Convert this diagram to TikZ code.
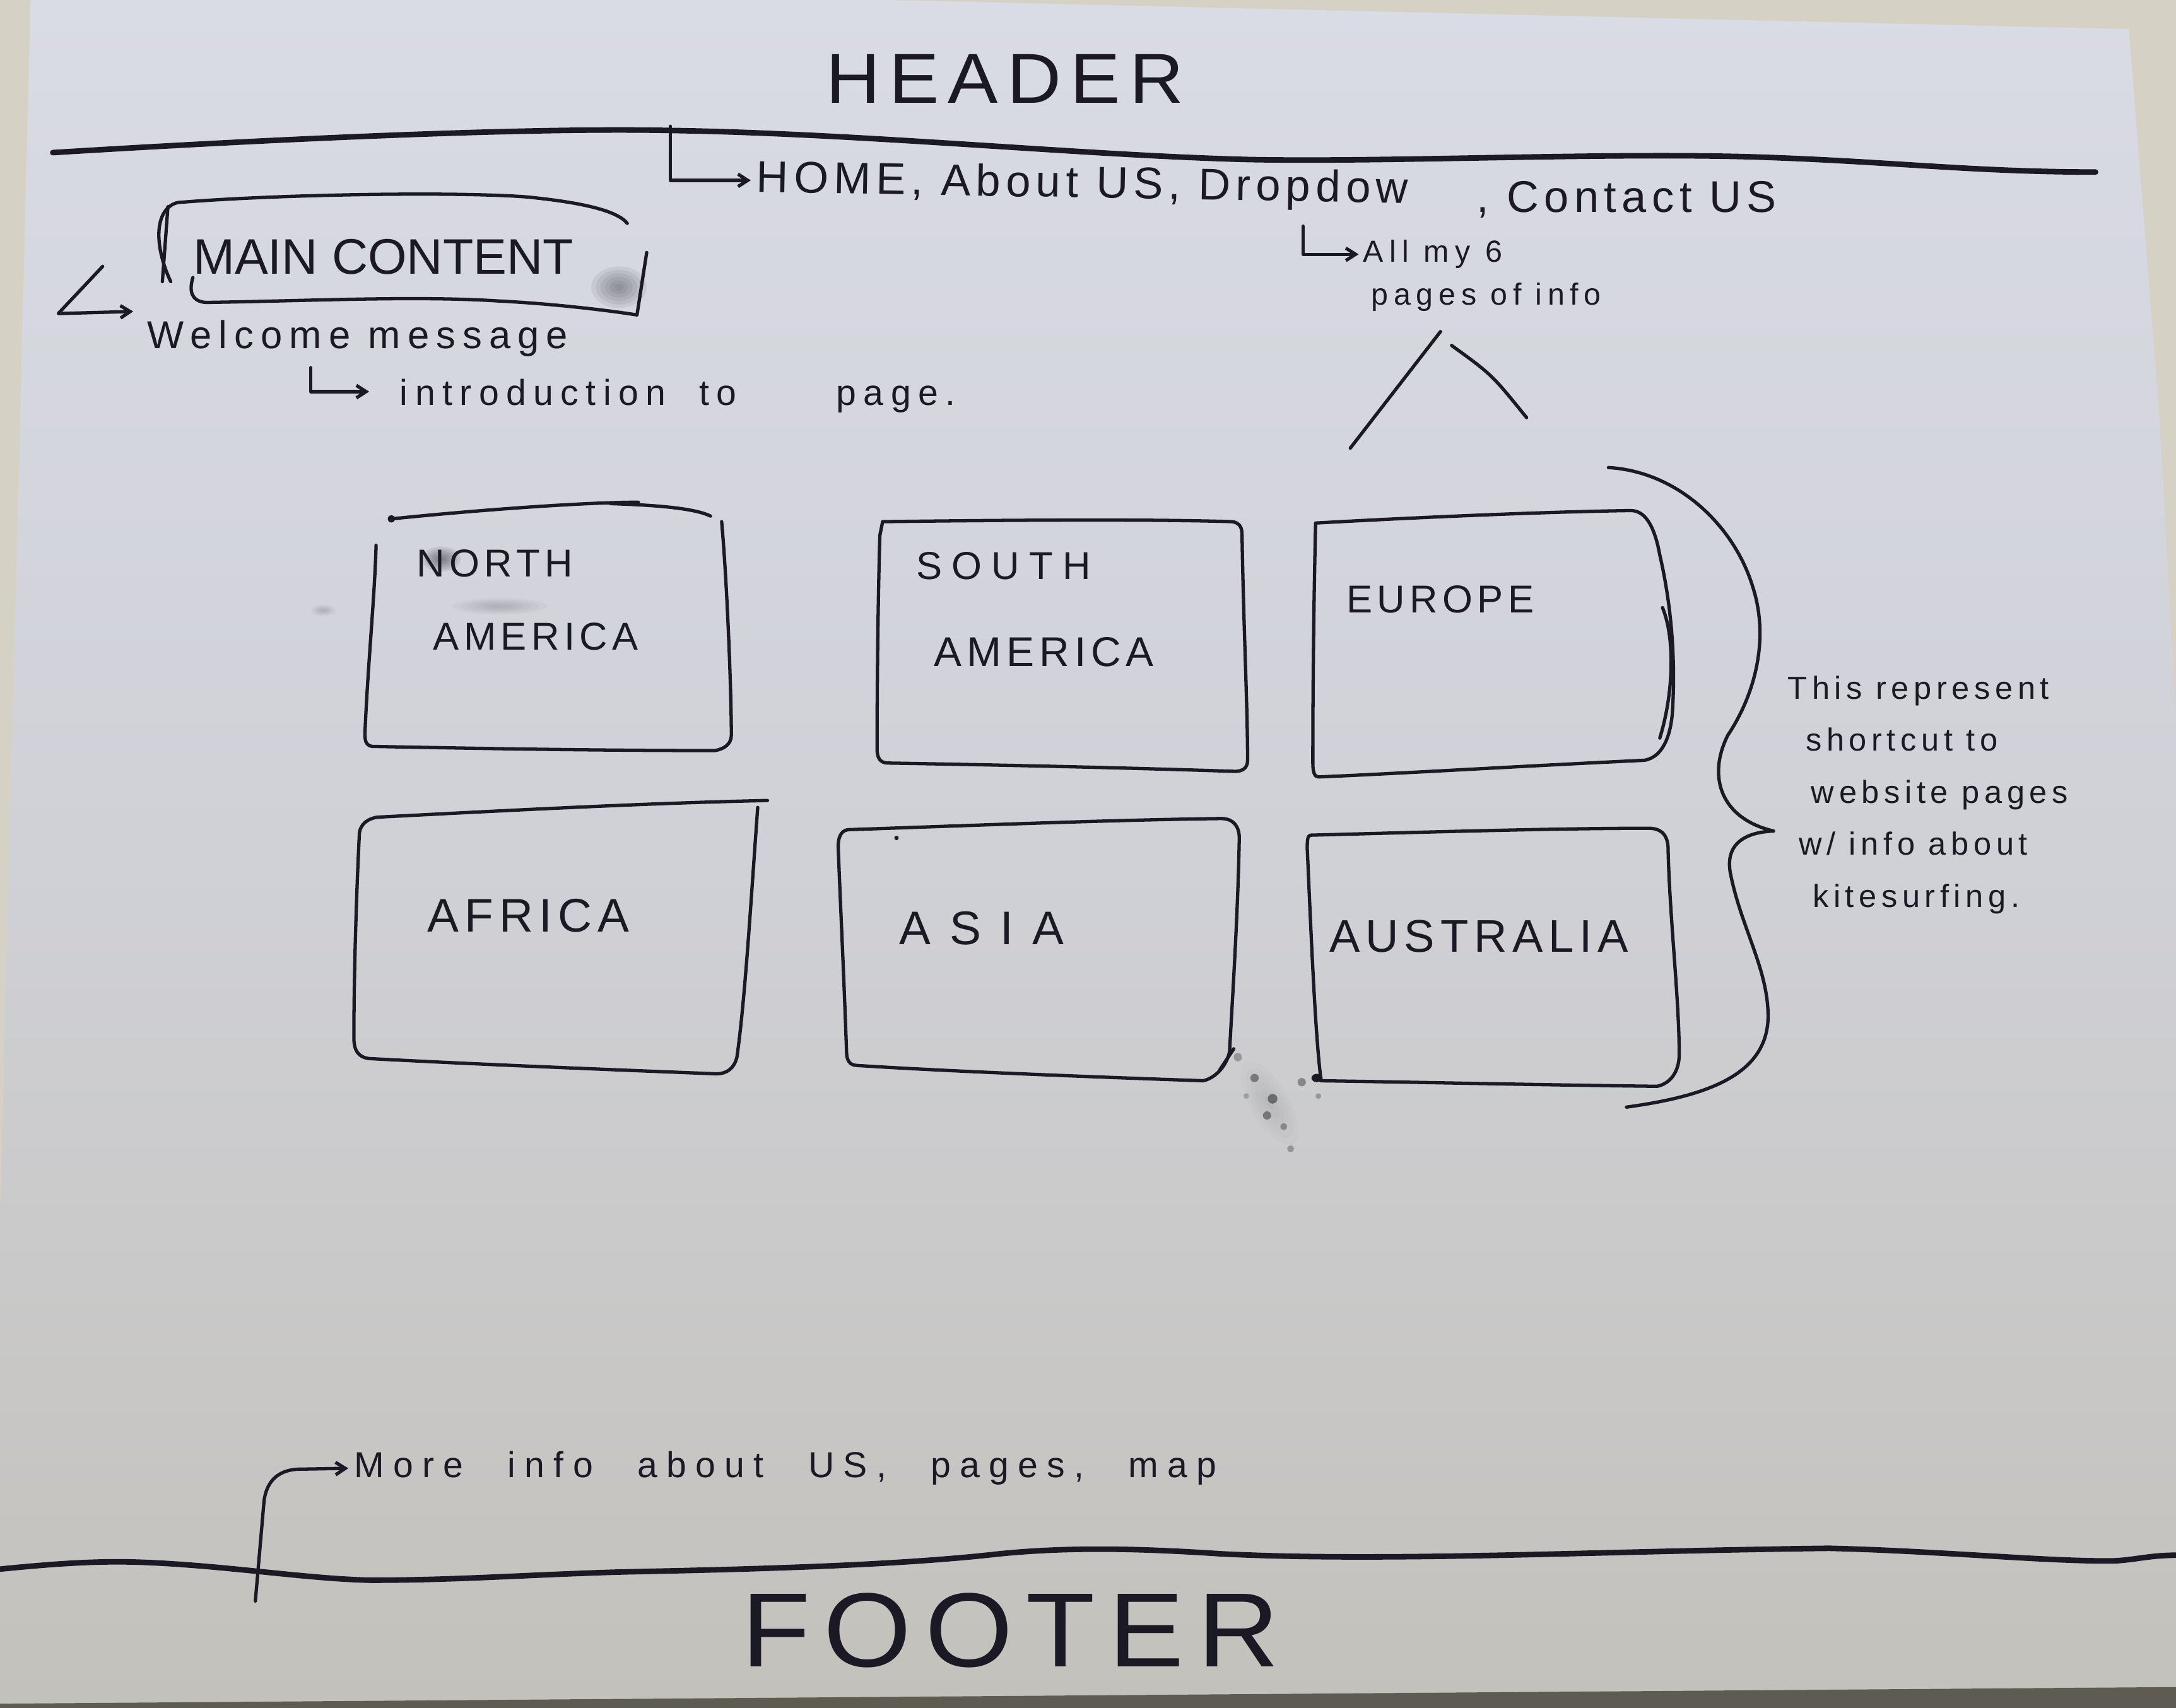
\documentclass[tikz,border=0pt]{standalone}
\usepackage{fontspec}
\setmainfont{Liberation Sans}
\newfontfamily\hand[LetterSpace=12]{Liberation Sans}
\usetikzlibrary{arrows.meta}
\definecolor{ink}{HTML}{1B1A24}
\definecolor{papertop}{HTML}{D9DBE5}
\definecolor{papermid}{HTML}{D0D1D7}
\definecolor{paperbot}{HTML}{C3C1BB}
\definecolor{wall}{HTML}{D5D2C5}
\definecolor{edge}{HTML}{5E5B52}
\tikzset{
  pen/.style={draw=ink, line width=2.4pt, line cap=round, line join=round},
  bigpen/.style={draw=ink, line width=4pt, line cap=round, line join=round},
  lbl/.style={inner sep=0pt, text=ink},
  hw/.style={font={\hand\fontsize{#1}{#1}\selectfont}},
  tip/.style={-{Straight Barb[length=7pt,width=9pt]}},
  smudge/.style={fill=ink, draw=none}
}
% soft graphite smear: stacked translucent ellipses
\newcommand\smear[5]{% x, y, rx, ry, strength
  \foreach \k in {1,...,6}
    \fill[smudge, opacity=#5] (#1,#2) ellipse ({#3*\k/6} and {#4*\k/6});}
\begin{document}
\begin{tikzpicture}[x=1pt,y=-1pt]
\useasboundingbox (0,0) rectangle (1568,1231);
% wall, paper sheet and the table edge below it
\fill[wall] (0,0) rectangle (1568,1231);
\shade[top color=papertop, bottom color=paperbot, middle color=papermid]
  (22,0) -- (640,0) -- (1534,21) -- (1556,300) -- (1568,520) -- (1568,1216)
  -- (0,1228) -- (0,880) -- cycle;
\fill[edge] (0,1228) -- (1568,1216) -- (1568,1231) -- (0,1231) -- cycle;

% ---------- header ----------
\node[lbl, hw=51] (header) at (724,57) {\scalebox{1.06}[1]{HEADER}};
\draw[bigpen] (38,110) .. controls (200,100) and (380,92) .. (480,94)
  .. controls (620,96) and (780,112) .. (900,115)
  .. controls (1000,117) and (1150,110) .. (1260,113)
  .. controls (1360,116) and (1420,124) .. (1510,124);
\coordinate (navtick) at (483,91);

\node[lbl, hw=32, anchor=west, rotate=-1] (nav) at (545,130) {HOME, About US, Dropdow};
\node[lbl, hw=32, anchor=west] (contact) at (1064,144) {, Contact US};
\draw[pen, tip, shorten >=4pt] (navtick) |- (nav.west);

\node[lbl, hw=22, anchor=base west] (allmy) at (982,189) {\addfontfeatures{LetterSpace=20}All my 6};
\node[lbl, hw=22, anchor=base west] (pagesinfo) at (988,220) {\addfontfeatures{LetterSpace=18}pages of info};
\coordinate (ddtick) at (939,163);
\draw[pen, tip, shorten >=3pt] (ddtick) |- (allmy.west);

% caret pointing up at the dropdown note
\coordinate (caretL) at (973,323);
\coordinate (caretT) at (1038,239);
\coordinate (caretS) at (1046,249);
\coordinate (caretR) at (1100,301);
\draw[pen] (caretL) -- (caretT);
\draw[pen] (caretS) .. controls (1075,270) .. (caretR);

% ---------- main content ----------
\smear{446}{207}{20}{15}{0.07}
\node[lbl, hw=36, anchor=west] (main) at (139,185) {\addfontfeatures{LetterSpace=0}MAIN CONTENT};
\draw[pen] (123,203) .. controls (110,175) and (112,150) .. (128,146)
  .. controls (200,140) and (330,138) .. (380,142)
  .. controls (420,146) and (445,152) .. (452,161);
\draw[pen] (121,149) -- (117,203);
\draw[pen] (139,200) .. controls (136,210) and (138,217) .. (148,218)
  .. controls (220,217) and (300,213) .. (360,217)
  .. controls (400,219) and (440,224) .. (459,227) -- (466,182);

\node[lbl, hw=28, anchor=base west] (welcome) at (106,251) {\addfontfeatures{LetterSpace=18}Welcome message};
\coordinate (mainarr) at (74,192);
\draw[pen, tip] (mainarr) -- (42,226) -- ([xshift=-10pt,yshift=6pt]welcome.north west);

\node[lbl, hw=26, anchor=base west] (intro) at (288,292)
  {\addfontfeatures{LetterSpace=20}introduction\hspace{24pt}to\hspace{72pt}page.};
\coordinate (introtick) at (224,265);
\draw[pen, tip, shorten >=22pt] (introtick) |- ([yshift=3pt]intro.west);

% ---------- region tiles ----------
% North America
\smear{318}{403}{14}{9}{0.09}
\smear{360}{437}{34}{6}{0.03}
\smear{233}{440}{9}{4}{0.03}
\draw[pen] (282,374) .. controls (340,368) and (420,362) .. (460,362);
\draw[pen] (440,363) .. controls (470,364) and (500,366) .. (512,372);
\draw[pen] (520,376) .. controls (524,420) and (527,500) .. (527,530)
  .. controls (527,536) and (522,540) .. (515,541)
  .. controls (420,541) and (320,539) .. (268,538)
  .. controls (263,537) and (263,533) .. (263,528)
  .. controls (265,480) and (270,430) .. (271,393);
\fill[ink] (282,374) circle (2.6pt);
\node[lbl, hw=28, anchor=west] (na1) at (300,406) {NORTH};
\node[lbl, hw=28, anchor=west] (na2) at (312,459) {AMERICA};

% South America
\draw[pen] (636,376) .. controls (720,375) and (820,374) .. (888,376)
  .. controls (894,377) and (895,381) .. (895,386)
  .. controls (896,450) and (899,510) .. (899,548)
  .. controls (899,553) and (896,556) .. (890,556)
  .. controls (800,553) and (700,551) .. (640,550)
  .. controls (634,550) and (632,546) .. (632,540)
  .. controls (632,480) and (633,420) .. (634,386) -- cycle;
\node[lbl, hw=28, anchor=west] (sa1) at (660,408) {\addfontfeatures{LetterSpace=25}SOUTH};
\node[lbl, hw=30, anchor=west] (sa2) at (673,470) {AMERICA};

% Europe
\draw[pen] (948,377) .. controls (1020,373) and (1110,369) .. (1175,368)
  .. controls (1185,368) and (1192,378) .. (1196,400)
  .. controls (1203,430) and (1208,470) .. (1205,515)
  .. controls (1203,535) and (1196,546) .. (1185,548)
  .. controls (1100,552) and (1000,558) .. (950,560)
  .. controls (947,560) and (946,556) .. (946,550)
  .. controls (946,480) and (947,420) .. (948,377);
\draw[pen] (1198,438) .. controls (1207,460) and (1206,500) .. (1196,532);
\node[lbl, hw=28, anchor=west] (eu) at (970,432) {EUROPE};

% Africa
\draw[pen] (272,589) .. controls (350,585) and (460,579) .. (553,577);
\draw[pen] (546,582) .. controls (541,650) and (537,720) .. (531,762)
  .. controls (529,770) and (524,774) .. (516,774)
  .. controls (440,771) and (340,767) .. (266,763)
  .. controls (258,762) and (255,757) .. (255,748)
  .. controls (255,700) and (257,640) .. (259,600)
  .. controls (260,594) and (265,590) .. (272,589);
\node[lbl, hw=34, anchor=west] (af) at (308,660) {AFRICA};

% Asia
\draw[pen] (612,598) .. controls (700,595) and (800,591) .. (880,590)
  .. controls (889,590) and (893,596) .. (893,604)
  .. controls (892,660) and (888,720) .. (886,758)
  .. controls (884,768) and (876,777) .. (867,779)
  .. controls (780,776) and (680,772) .. (618,768)
  .. controls (612,768) and (610,764) .. (610,758)
  .. controls (608,700) and (605,640) .. (604,610)
  .. controls (604,602) and (607,598) .. (612,598);
\draw[pen] (889,756) -- (879,771);
\fill[ink] (646,604) circle (1.6pt);
\node[lbl, hw=34, anchor=west] (as) at (648,669) {\addfontfeatures{LetterSpace=40}ASIA};

% Australia
\draw[pen] (944,602) .. controls (1020,600) and (1120,597) .. (1188,597)
  .. controls (1198,597) and (1202,603) .. (1202,612)
  .. controls (1203,660) and (1210,720) .. (1210,760)
  .. controls (1210,772) and (1204,781) .. (1194,783)
  .. controls (1110,782) and (1020,780) .. (952,779)
  .. controls (948,750) and (945,680) .. (942,612)
  .. controls (942,606) and (942,603) .. (944,602);
\fill[ink] (949,777) ellipse (4pt and 3pt);
\node[lbl, hw=33, anchor=west] (au) at (958,675) {AUSTRALIA};

% ink specks between the lower tiles
\begin{scope}[rotate around={-60:(915,795)}]
  \smear{915}{795}{34}{14}{0.015}
\end{scope}
\foreach \sx/\sy/\sr/\so in {892/762/3/0.3, 904/777/3/0.45, 917/792/3.5/0.5, 913/804/3/0.45,
  925/812/2.5/0.35, 938/780/3/0.4, 950/790/2/0.3, 930/828/2.5/0.3, 898/790/2/0.25}
  \fill[smudge, opacity=\so] (\sx,\sy) circle (\sr pt);

% ---------- brace and its note ----------
\draw[pen] (1159,337) .. controls (1210,340) and (1250,380) .. (1263,423)
  .. controls (1275,460) and (1265,500) .. (1245,530)
  .. controls (1230,560) and (1240,590) .. (1278,599)
  .. controls (1255,600) and (1243,610) .. (1247,630)
  .. controls (1255,670) and (1275,700) .. (1274,735)
  .. controls (1272,775) and (1230,790) .. (1172,798);
\node[lbl, anchor=north west, align=left, font={\hand\fontsize{23}{37.5}\selectfont\addfontfeatures{LetterSpace=15}}] (note) at (1288,487)
  {This represent\\
   \hspace*{13pt}shortcut to\\
   \hspace*{17pt}website pages\\
   \hspace*{8pt}w/ info about\\
   \hspace*{18pt}kitesurfing.};

% ---------- footer ----------
\node[lbl, hw=26, anchor=base west] (moreinfo) at (255,1065)
  {\addfontfeatures{LetterSpace=25}\spaceskip=32pt plus 2pt minus 2pt More info about US, pages, map};
\coordinate (ftick) at (184,1154);
\draw[pen, tip, shorten >=4pt] (ftick) -- (190,1085) .. controls (191,1068) and (200,1060) .. (214,1059) -- (moreinfo.west);
\draw[bigpen] (0,1131) .. controls (40,1127) and (70,1125) .. (100,1126)
  .. controls (160,1128) and (220,1138) .. (267,1139)
  .. controls (330,1139) and (380,1135) .. (450,1133)
  .. controls (550,1131) and (650,1128) .. (720,1120)
  .. controls (770,1115) and (820,1116) .. (880,1120)
  .. controls (1000,1126) and (1150,1118) .. (1318,1116)
  .. controls (1400,1118) and (1480,1126) .. (1525,1125)
  .. controls (1540,1124) and (1550,1121) .. (1568,1121);
\node[lbl, hw=76] (footer) at (728,1175) {\scalebox{1.07}[1]{FOOTER}};
\end{tikzpicture}
\end{document}
